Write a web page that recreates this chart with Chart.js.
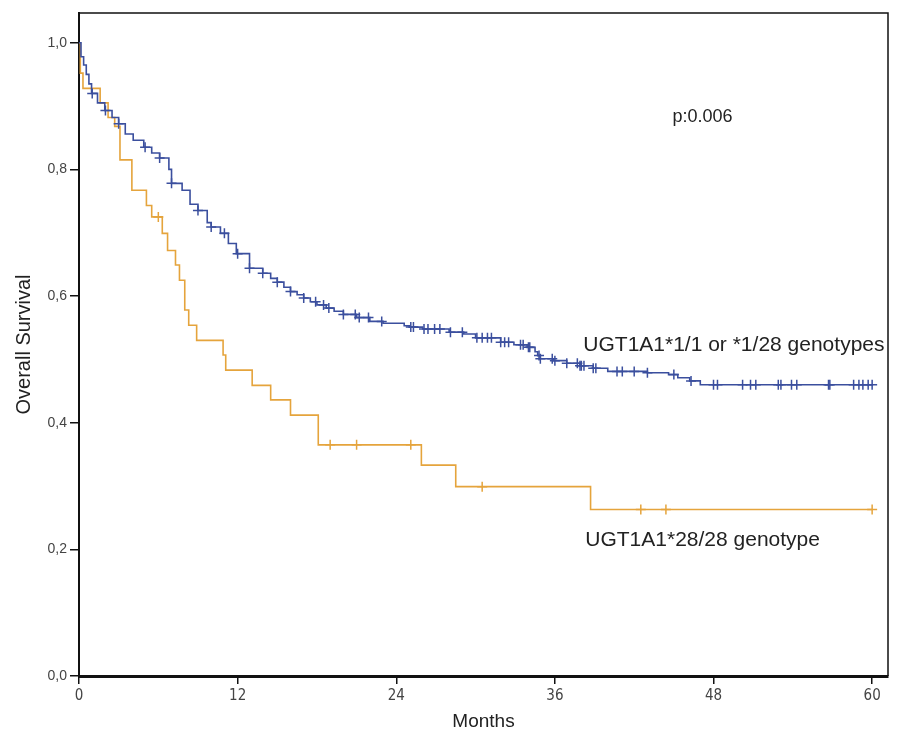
<!DOCTYPE html>
<html lang="en">
<head>
<meta charset="UTF-8">
<title>Overall Survival by UGT1A1 genotype</title>
<script src="https://cdn.jsdelivr.net/npm/chart.js@4.4.1/dist/chart.umd.min.js"></script>
<style>
    html, body { margin: 0; padding: 0; background: #fff; }
    canvas { display: block; }
</style>
</head>
<body>
<canvas id="kmChart" width="901" height="736"></canvas>
<script>
    // axis ticks
    const monthTicks = [0, 12, 24, 36, 48, 60];
    const survTicks = [0, 0.2, 0.4, 0.6, 0.8, 1.0];
    const survTickLabels = ['0,0', '0,2', '0,4', '0,6', '0,8', '1,0'];

    // UGT1A1*1/1 or *1/28 (blue) - event times (months) and survival after each step
    const wildMonths = [0, 0.15, 0.35, 0.55, 0.75, 0.95, 1.4, 1.95, 2.5, 3.0, 3.5, 4.1, 4.9, 5.5, 6.1,
        6.8, 7.0, 7.8, 8.4, 9.0, 9.7, 10.0, 10.7, 11.3, 11.9, 12.9, 13.9, 14.5, 15.0, 15.5,
        16.0, 16.5, 17.0, 17.5, 18.0, 18.7, 19.3, 20.0, 21.0, 22.0, 23.0, 24.6, 25.0, 26.0,
        28.0, 29.1, 30.0, 31.9, 32.9, 33.9, 34.5, 34.7, 34.9, 35.9, 36.9, 37.9, 38.9, 40.0,
        43.0, 44.6, 45.3, 46.2, 47.0, 60];
    const wildSurv = [1.0, 0.978, 0.965, 0.95, 0.935, 0.92, 0.905, 0.893, 0.882, 0.872, 0.856, 0.846, 0.835, 0.826, 0.818,
        0.800, 0.778, 0.767, 0.745, 0.735, 0.716, 0.709, 0.699, 0.683, 0.667, 0.644, 0.636, 0.628, 0.622, 0.614,
        0.607, 0.602, 0.597, 0.591, 0.586, 0.581, 0.576, 0.571, 0.566, 0.560, 0.557, 0.553, 0.551, 0.548,
        0.543, 0.540, 0.534, 0.527, 0.523, 0.519, 0.512, 0.506, 0.501, 0.498, 0.494, 0.490, 0.486, 0.481,
        0.479, 0.476, 0.471, 0.466, 0.460, 0.460];
    const wildCensored = [1.0, 2.0, 3.0, 5.0, 6.1, 7.0, 9.0, 10.0, 11.0, 12.0, 12.9, 13.9, 15.0, 16.0, 17.0,
        17.9, 18.5, 18.9, 20.0, 20.9, 21.2, 21.9, 22.9, 25.1, 25.3, 26.1, 26.4, 26.9, 27.3, 28.1,
        29.0, 30.1, 30.5, 30.9, 31.2, 31.9, 32.2, 32.5, 33.4, 33.6, 34.0, 34.1, 34.8, 34.9, 35.8,
        36.0, 36.9, 37.7, 37.9, 38.0, 38.2, 38.9, 39.1, 40.7, 41.1, 42.0, 43.0, 45.0, 46.3, 48.0,
        48.3, 50.2, 50.8, 51.2, 52.9, 53.1, 53.9, 54.3, 56.7, 56.8, 58.6, 59.0, 59.3, 59.7, 60.0];

    // UGT1A1*28/28 (orange)
    const homoMonths = [0, 0.1, 0.3, 1.6, 2.2, 2.7, 3.1, 4.0, 5.1, 5.5, 6.3, 6.7, 7.3, 7.6, 8.0,
        8.3, 8.9, 10.9, 11.1, 13.1, 14.5, 16.0, 18.1, 25.9, 28.5, 38.7, 60];
    const homoSurv = [1.0, 0.952, 0.928, 0.905, 0.882, 0.868, 0.815, 0.767, 0.743, 0.725, 0.699, 0.672, 0.649, 0.625, 0.578,
        0.554, 0.530, 0.507, 0.483, 0.459, 0.436, 0.412, 0.365, 0.333, 0.299, 0.263, 0.263];
    const homoCensored = [6.0, 19.0, 21.0, 25.1, 30.5, 42.5, 44.4, 60.0];

    const BLUE = '#3b4f9e';
    const ORANGE = '#e5a43c';

    function toPoints(months, surv) {
        return months.map((m, i) => ({ x: m, y: surv[i] }));
    }

    // survival value of the step curve at time t (for placing censor ticks)
    function survAt(months, surv, t) {
        let s = surv[0];
        for (let i = 0; i < months.length; i++) {
            if (months[i] <= t) s = surv[i];
        }
        return s;
    }

    const framePlugin = {
        id: 'frame',
        afterDraw(chart) {
            const { ctx, chartArea } = chart;
            ctx.save();
            ctx.strokeStyle = '#111';
            ctx.lineWidth = 1.5;
            ctx.beginPath();
            ctx.moveTo(chartArea.left, chartArea.top);
            ctx.lineTo(chartArea.right, chartArea.top);
            ctx.lineTo(chartArea.right, chartArea.bottom);
            ctx.stroke();
            ctx.restore();
        }
    };

    const notesPlugin = {
        id: 'notes',
        afterDatasetsDraw(chart) {
            const { ctx } = chart;
            const xs = chart.scales.x, ys = chart.scales.y;
            ctx.save();
            ctx.fillStyle = '#222';
            ctx.textBaseline = 'middle';
            ctx.textAlign = 'left';
            ctx.font = '18px "Liberation Sans", Arial, sans-serif';
            ctx.fillText('p:0.006', xs.getPixelForValue(44.9), ys.getPixelForValue(0.882));
            ctx.font = '21px "Liberation Sans", Arial, sans-serif';
            ctx.fillText('UGT1A1*1/1 or *1/28 genotypes', xs.getPixelForValue(38.15), ys.getPixelForValue(0.522));
            ctx.fillText('UGT1A1*28/28 genotype', xs.getPixelForValue(38.3), ys.getPixelForValue(0.215));
            ctx.restore();
        }
    };

    const ctx = document.getElementById('kmChart').getContext('2d');
    const kmChart = new Chart(ctx, {
        type: 'scatter',
        data: {
            datasets: [
                {
                    label: 'UGT1A1*1/1 or *1/28 genotypes',
                    data: toPoints(wildMonths, wildSurv),
                    showLine: true,
                    stepped: 'before',
                    borderColor: BLUE,
                    borderWidth: 1.6,
                    pointRadius: 0
                },
                {
                    label: 'censored (blue)',
                    data: wildCensored.map(t => ({ x: t, y: survAt(wildMonths, wildSurv, t) })),
                    showLine: false,
                    pointStyle: 'cross',
                    pointRadius: 5,
                    borderColor: BLUE,
                    backgroundColor: BLUE,
                    borderWidth: 1.5
                },
                {
                    label: 'UGT1A1*28/28 genotype',
                    data: toPoints(homoMonths, homoSurv),
                    showLine: true,
                    stepped: 'before',
                    borderColor: ORANGE,
                    borderWidth: 1.6,
                    pointRadius: 0
                },
                {
                    label: 'censored (orange)',
                    data: homoCensored.map(t => ({ x: t, y: survAt(homoMonths, homoSurv, t) })),
                    showLine: false,
                    pointStyle: 'cross',
                    pointRadius: 5,
                    borderColor: ORANGE,
                    backgroundColor: ORANGE,
                    borderWidth: 1.5
                }
            ]
        },
        options: {
            responsive: false,
            animation: false,
            layout: { padding: { top: 13, right: 13, left: 0, bottom: 0 } },
            plugins: {
                legend: { display: false },
                tooltip: { enabled: false }
            },
            scales: {
                x: {
                    type: 'linear',
                    min: 0,
                    max: 61.2,
                    afterBuildTicks: s => { s.ticks = monthTicks.map(v => ({ value: v })); },
                    afterFit: s => { s.height = 60; },
                    ticks: {
                        autoSkip: false,
                        maxRotation: 0,
                        padding: 3,
                        color: '#444',
                        font: { family: '"Liberation Sans Narrow", "DejaVu Sans Condensed", Arial, sans-serif', size: 15 }
                    },
                    grid: { drawOnChartArea: false, drawTicks: true, tickLength: 8, color: '#111', lineWidth: 1.5 },
                    border: { color: '#111', width: 3 },
                    title: {
                        display: true,
                        text: 'Months',
                        color: '#222',
                        font: { family: '"Liberation Sans", Arial, sans-serif', size: 19 },
                        padding: { top: 2, bottom: 3 }
                    }
                },
                y: {
                    type: 'linear',
                    min: 0,
                    max: 1.047,
                    afterBuildTicks: s => { s.ticks = survTicks.map(v => ({ value: v })); },
                    afterFit: s => { s.width = 79; },
                    ticks: {
                        padding: 3,
                        color: '#444',
                        font: { family: '"Liberation Sans", Arial, sans-serif', size: 14 },
                        callback: (v, i) => survTickLabels[i]
                    },
                    grid: { drawOnChartArea: false, drawTicks: true, tickLength: 9, color: '#111', lineWidth: 1.5 },
                    border: { color: '#111', width: 2 },
                    title: {
                        display: true,
                        text: 'Overall Survival',
                        color: '#222',
                        font: { family: '"Liberation Sans", Arial, sans-serif', size: 20 },
                        padding: { top: 12, bottom: 0 }
                    }
                }
            }
        },
        plugins: [framePlugin, notesPlugin]
    });
</script>
</body>
</html>
